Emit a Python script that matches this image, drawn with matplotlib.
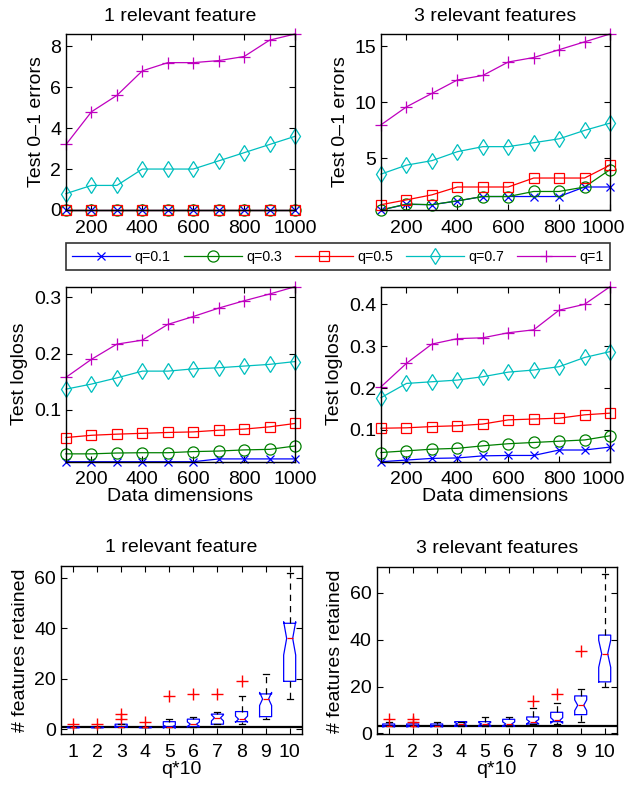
import matplotlib
matplotlib.use("Agg")
import matplotlib.pyplot as plt
from matplotlib.transforms import ScaledTranslation

plt.rcParams["font.family"] = ["Liberation Sans", "DejaVu Sans"]

dims = [100, 200, 300, 400, 500, 600, 700, 800, 900, 1000]
q_labels = ["q=0.1", "q=0.3", "q=0.5", "q=0.7", "q=1"]

# test 0-1 errors, 1 relevant feature
err1_q01 = [0, 0, 0, 0, 0, 0, 0, 0, 0, 0]
err1_q03 = [0, 0, 0, 0, 0, 0, 0, 0, 0, 0]
err1_q05 = [0, 0, 0, 0, 0, 0, 0, 0, 0, 0]
err1_q07 = [0.8, 1.2, 1.2, 2.0, 2.0, 2.0, 2.4, 2.8, 3.2, 3.6]
err1_q1 = [3.2, 4.8, 5.6, 6.8, 7.2, 7.2, 7.3, 7.5, 8.3, 8.6]

# test 0-1 errors, 3 relevant features
err3_q01 = [0.4, 0.9, 0.87, 1.2, 1.6, 1.6, 1.6, 1.6, 2.45, 2.45]
err3_q03 = [0.4, 0.93, 0.87, 1.22, 1.6, 1.6, 2.05, 2.05, 2.45, 4.0]
err3_q05 = [0.87, 1.3, 1.75, 2.45, 2.45, 2.45, 3.25, 3.25, 3.25, 4.4]
err3_q07 = [3.6, 4.4, 4.8, 5.6, 6.05, 6.05, 6.4, 6.75, 7.5, 8.15]
err3_q1 = [8.0, 9.6, 10.8, 12.0, 12.4, 13.6, 14.0, 14.7, 15.4, 16.1]

# test logloss, 1 relevant feature
ll1_q01 = [0.008, 0.008, 0.008, 0.008, 0.008, 0.008, 0.013, 0.013, 0.013, 0.013]
ll1_q03 = [0.022, 0.022, 0.0235, 0.024, 0.024, 0.026, 0.027, 0.029, 0.030, 0.036]
ll1_q05 = [0.051, 0.055, 0.057, 0.0585, 0.060, 0.061, 0.064, 0.066, 0.070, 0.076]
ll1_q07 = [0.137, 0.146, 0.157, 0.169, 0.169, 0.173, 0.175, 0.178, 0.181, 0.186]
ll1_q1 = [0.158, 0.190, 0.217, 0.224, 0.252, 0.266, 0.281, 0.294, 0.306, 0.319]

# test logloss, 3 relevant features
ll3_q01 = [0.024, 0.028, 0.032, 0.033, 0.038, 0.039, 0.039, 0.052, 0.052, 0.059]
ll3_q03 = [0.046, 0.050, 0.054, 0.056, 0.062, 0.067, 0.070, 0.073, 0.076, 0.086]
ll3_q05 = [0.104, 0.105, 0.108, 0.110, 0.114, 0.124, 0.126, 0.128, 0.136, 0.140]
ll3_q07 = [0.177, 0.211, 0.215, 0.219, 0.227, 0.238, 0.243, 0.251, 0.273, 0.287]
ll3_q1 = [0.203, 0.259, 0.305, 0.318, 0.320, 0.332, 0.339, 0.386, 0.400, 0.442]

# features retained boxplots (q*10 = 1..10)
q10 = [1, 2, 3, 4, 5, 6, 7, 8, 9, 10]
med_1 = [1, 1, 1, 1, 1, 2, 4.5, 4, 12, 36]
q1_1 = [1, 1, 1, 1, 1, 1, 2, 3, 5, 19]
q3_1 = [1, 1, 2, 1, 3, 4, 6, 7, 14, 42]
lo_1 = [1, 1, 1, 1, 1, 1, 2, 2, 4, 12]
hi_1 = [1, 1, 2, 1, 4, 5, 7, 13, 22, 62]
ci_lo_1 = [1, 1, 0.7, 1, 0.4, 1.1, 3.3, 2.8, 9.4, 29.4]
ci_hi_1 = [1, 1, 1.3, 1, 1.6, 2.9, 5.7, 5.2, 14.6, 42.6]
out_1 = [[2], [2], [4, 6], [3], [13], [14], [14], [19], [], []]

med_3 = [3, 3, 3, 4, 4, 4, 5, 5.5, 12, 34]
q1_3 = [3, 3, 3, 3, 3, 3, 4, 5, 8, 22]
q3_3 = [4, 4, 4, 5, 5, 6, 7, 9, 16, 42]
lo_3 = [3, 3, 3, 3, 3, 3, 4, 4, 5, 20]
hi_3 = [5, 5, 5, 5, 7, 7, 11, 13, 19, 68]
ci_lo_3 = [2.7, 2.7, 2.7, 3.4, 3.4, 3.1, 4.1, 4.3, 9.7, 28.2]
ci_hi_3 = [3.3, 3.3, 3.3, 4.6, 4.6, 4.9, 5.9, 6.7, 14.3, 39.8]
out_3 = [[6], [5, 6], [], [], [], [], [14], [17], [35], []]

colors = ["#0000ff", "#008000", "#ff0000", "#00bfbf", "#bf00bf"]
markers = ["x", "o", "s", "d", "+"]
msizes = [6, 8, 7.2, 8, 9]

FS = 14


def style_axes(ax):
    ax.tick_params(direction="in", top=True, right=True, length=4,
                   labelsize=FS, width=0.8)
    ax.tick_params(axis="x", pad=7)
    for s in ax.spines.values():
        s.set_linewidth(1.0)


def line_panel(ax, series, ylim, yticks):
    for vals, c, m, ms, lab in zip(series, colors, markers, msizes, q_labels):
        ax.plot(dims, vals, color=c, marker=m, markersize=ms,
                markerfacecolor="none", markeredgecolor=c, linewidth=0.9,
                markeredgewidth=0.9, label=lab, clip_on=False)
    ax.set_xlim(100, 1000)
    ax.set_ylim(*ylim)
    ax.set_xticks([200, 400, 600, 800, 1000])
    ax.set_yticks(yticks)
    style_axes(ax)


def nudge_last_xlabel(ax, fig):
    # keep the rightmost "1000" inside the figure edge
    lab = ax.get_xticklabels()[-1]
    lab.set_transform(lab.get_transform() +
                      ScaledTranslation(-5 / 72, 0, fig.dpi_scale_trans))


def box_panel(ax, med, q1, q3, lo, hi, cilo, cihi, fl, base, ylim):
    stats = []
    for i in range(len(q10)):
        stats.append(dict(med=med[i], q1=q1[i], q3=q3[i], whislo=lo[i],
                          whishi=hi[i], cilo=cilo[i], cihi=cihi[i],
                          fliers=fl[i]))
    ax.bxp(stats, positions=q10, widths=0.5, shownotches=True,
           boxprops=dict(color="#0000ff", linewidth=0.9),
           medianprops=dict(color="#ff0000", linewidth=0.9),
           whiskerprops=dict(color="black", linestyle=(0, (5, 4)), linewidth=0.9),
           capprops=dict(color="black", linewidth=0.9),
           flierprops=dict(marker="+", markeredgecolor="#ff0000",
                           markersize=8, markeredgewidth=1.0))
    ax.axhline(base, color="black", linewidth=1.6, zorder=0)
    ax.set_xlim(0.5, 10.5)
    ax.set_ylim(*ylim)
    ax.set_xticks(q10)
    ax.set_xticklabels([str(v) for v in q10])
    ax.set_yticks([0, 20, 40, 60])
    style_axes(ax)
    ax.set_xlabel("q*10", fontsize=FS, labelpad=0)
    ax.set_ylabel("# features retained", fontsize=FS)


fig = plt.figure(figsize=(6.3, 7.87), dpi=100)

ax1 = fig.add_axes([0.1048, 0.7332, 0.3635, 0.2236])
line_panel(ax1, [err1_q01, err1_q03, err1_q05, err1_q07, err1_q1],
           (0, 8.6), [0, 2, 4, 6, 8])
ax1.set_title("1 relevant feature", fontsize=FS, pad=9)
ax1.set_ylabel("Test 0\u20131 errors", fontsize=FS)

ax2 = fig.add_axes([0.6048, 0.7332, 0.3635, 0.2236])
line_panel(ax2, [err3_q01, err3_q03, err3_q05, err3_q07, err3_q1],
           (0.4, 16.1), [5, 10, 15])
ax2.set_title("3 relevant features", fontsize=FS, pad=9)
ax2.set_ylabel("Test 0\u20131 errors", fontsize=FS)
nudge_last_xlabel(ax2, fig)

ax3 = fig.add_axes([0.1048, 0.4133, 0.3635, 0.2224])
line_panel(ax3, [ll1_q01, ll1_q03, ll1_q05, ll1_q07, ll1_q1],
           (0.008, 0.319), [0.1, 0.2, 0.3])
ax3.set_ylabel("Test logloss", fontsize=FS)
ax3.set_xlabel("Data dimensions", fontsize=FS, labelpad=0)

ax4 = fig.add_axes([0.6048, 0.4133, 0.3635, 0.2224])
line_panel(ax4, [ll3_q01, ll3_q03, ll3_q05, ll3_q07, ll3_q1],
           (0.024, 0.442), [0.1, 0.2, 0.3, 0.4])
ax4.set_ylabel("Test logloss", fontsize=FS)
ax4.set_xlabel("Data dimensions", fontsize=FS, labelpad=0)
nudge_last_xlabel(ax4, fig)

handles, labels = ax1.get_legend_handles_labels()
leg = fig.legend(handles, labels, loc="lower left", ncol=5, mode="expand",
                 bbox_to_anchor=(0.1048, 0.657, 0.8635, 0.037),
                 fontsize=10.2, handlelength=4.1, frameon=True, fancybox=False,
                 borderaxespad=0, borderpad=0.45, columnspacing=0.8,
                 handletextpad=0.3)
leg.get_frame().set_edgecolor("black")
leg.get_frame().set_linewidth(1.2)

ax5 = fig.add_axes([0.0968, 0.0673, 0.3821, 0.2135])
box_panel(ax5, med_1, q1_1, q3_1, lo_1, hi_1, ci_lo_1, ci_hi_1, out_1,
          1, (-1.9, 64.7))
ax5.set_title("1 relevant feature", fontsize=FS, pad=10)

ax6 = fig.add_axes([0.5979, 0.0670, 0.381, 0.2122])
box_panel(ax6, med_3, q1_3, q3_3, lo_3, hi_3, ci_lo_3, ci_hi_3, out_3,
          3, (-0.4, 71))
ax6.set_title("3 relevant features", fontsize=FS, pad=10)

fig.savefig("out.png", dpi=100)
